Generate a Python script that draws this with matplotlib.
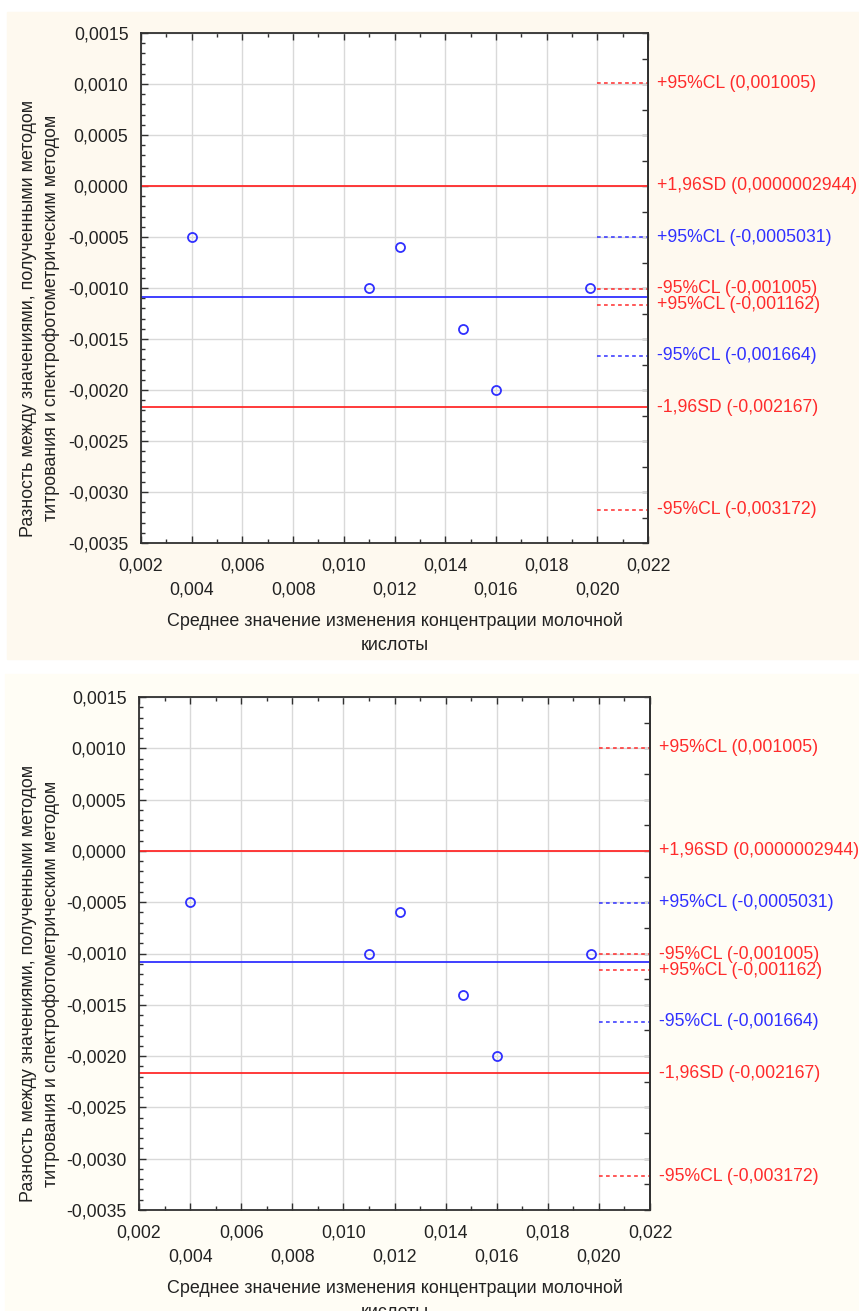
import numpy as np
import matplotlib
matplotlib.use("Agg")
import matplotlib.pyplot as plt
from matplotlib.patches import Rectangle
from matplotlib.ticker import FuncFormatter, MultipleLocator

plt.rcParams['font.family'] = ['Liberation Sans', 'DejaVu Sans']

W, H = 859, 1311

# ----- data (Bland-Altman) -----
mean_x = [0.0040, 0.0110, 0.0122, 0.0147, 0.0160, 0.0197]
diff_y = [-0.0005, -0.0010, -0.0006, -0.0014, -0.0020, -0.0010]

upper_loa = 0.0000002944
lower_loa = -0.002167
bias = -0.0010834

# short dashed confidence marks at right edge: value, label, colour key
cl_values = [0.001005, -0.0005031, -0.001005, -0.001162, -0.001664, -0.003172]
cl_labels = ["+95%CL (0,001005)", "+95%CL (-0,0005031)", "-95%CL (-0,001005)",
             "+95%CL (-0,001162)", "-95%CL (-0,001664)", "-95%CL (-0,003172)"]
cl_kinds = ["loa", "bias", "loa", "loa", "bias", "loa"]

loa_labels = ["+1,96SD (0,0000002944)", "-1,96SD (-0,002167)"]

x_ticks = [0.002, 0.004, 0.006, 0.008, 0.010, 0.012, 0.014, 0.016, 0.018, 0.020, 0.022]
x_tick_labels = ["0,002", "0,004", "0,006", "0,008", "0,010", "0,012",
                 "0,014", "0,016", "0,018", "0,020", "0,022"]

y_label = "Разность между значениями, полученными методом\nтитрования и спектрофотометрическим методом"
x_label = "Среднее значение изменения концентрации молочной\nкислоты"

RED = "#ff2b2b"
BLUE = "#3030ff"
SPINE = "#303030"
FS = 12.7      # tick / side labels
FS_LAB = 12.9  # axis titles


def comma_fmt(v, pos):
    return f"{v:.4f}".replace(".", ",")


def draw_panel(fig, ax_px, bg_px, bg_color):
    x0, y0, x1, y1 = bg_px
    fig.add_artist(Rectangle((x0 / W, 1 - y1 / H), (x1 - x0) / W, (y1 - y0) / H,
                             transform=fig.transFigure, color=bg_color, zorder=-10))
    l, t, r, b = ax_px
    ax = fig.add_axes([l / W, 1 - b / H, (r - l) / W, (b - t) / H])
    ax.set_facecolor("white")

    ax.set_xlim(0.002, 0.022)
    ax.set_ylim(-0.0035, 0.0015)

    ax.grid(True, color="#d9d9d9", lw=1.0, zorder=0)
    ax.set_axisbelow(True)

    ax.axhline(upper_loa, color=RED, lw=1.3, zorder=2)
    ax.axhline(lower_loa, color=RED, lw=1.3, zorder=2)
    ax.axhline(bias, color=BLUE, lw=1.3, zorder=2)

    for v, kind in zip(cl_values, cl_kinds):
        ax.plot([0.020, 0.022], [v, v], color=RED if kind == "loa" else BLUE,
                lw=1.1, dashes=(2.4, 2.2), zorder=2)

    ax.plot(mean_x, diff_y, "o", ms=6.5, mfc="none", mec=BLUE, mew=1.3, zorder=3)

    # labels at the right of the plot
    for v, s, kind in zip(cl_values, cl_labels, cl_kinds):
        ax.annotate(s, xy=(1, v), xycoords=("axes fraction", "data"),
                    xytext=(9, 0), textcoords="offset pixels", va="center",
                    color=RED if kind == "loa" else BLUE, fontsize=FS)
    for v, s in zip([upper_loa, lower_loa], loa_labels):
        ax.annotate(s, xy=(1, v), xycoords=("axes fraction", "data"),
                    xytext=(9, 0), textcoords="offset pixels", va="center",
                    color=RED, fontsize=FS)

    ax.set_xticks(x_ticks)
    ax.set_xticklabels([s if i % 2 == 0 else "\n" + s for i, s in enumerate(x_tick_labels)])
    for tl in ax.get_xticklabels():
        tl.set_linespacing(1.55)
    ax.xaxis.set_minor_locator(MultipleLocator(0.001))
    ax.yaxis.set_major_locator(MultipleLocator(0.0005))
    ax.yaxis.set_minor_locator(MultipleLocator(0.0001))
    ax.yaxis.set_major_formatter(FuncFormatter(comma_fmt))

    ax.tick_params(which="both", direction="in", top=True, right=False,
                   colors=SPINE, labelcolor="#222222", labelsize=FS)
    ax.tick_params(which="major", length=5, width=1.0)
    ax.tick_params(which="minor", length=3, width=1.0)
    ax.tick_params(axis="y", pad=9)
    ax.tick_params(axis="x", pad=10.5)

    sec = ax.secondary_yaxis("right")
    sec.set_yticks(np.arange(-0.0035, 0.00151, 0.00025))
    sec.tick_params(direction="in", length=4, width=1.0, colors=SPINE, labelright=False)
    sec.spines["right"].set_color(SPINE)
    sec.spines["right"].set_linewidth(1.3)

    for sp in ax.spines.values():
        sp.set_color(SPINE)
        sp.set_linewidth(1.3)

    ax.annotate(y_label, xy=(0, 0.5), xycoords="axes fraction",
                xytext=(-(l - 40), -30), textcoords="offset pixels",
                rotation=90, ha="center", va="center", multialignment="center",
                fontsize=FS_LAB, color="#222222", linespacing=1.4)
    ax.annotate(x_label, xy=(0.5, 0), xycoords="axes fraction",
                xytext=(0, -90), textcoords="offset pixels",
                ha="center", va="center", multialignment="center",
                fontsize=FS_LAB, color="#222222", linespacing=1.5)
    return ax


def main():
    fig = plt.figure(figsize=(W / 100, H / 100), dpi=100)
    fig.patch.set_facecolor("white")
    draw_panel(fig, (141, 33, 648, 543), (7, 12, 859, 659), "#fef9ef")
    draw_panel(fig, (139, 697, 650, 1210), (5, 674, 859, 1311), "#fffdf5")
    fig.savefig("out.png", dpi=100)


if __name__ == "__main__":
    main()
